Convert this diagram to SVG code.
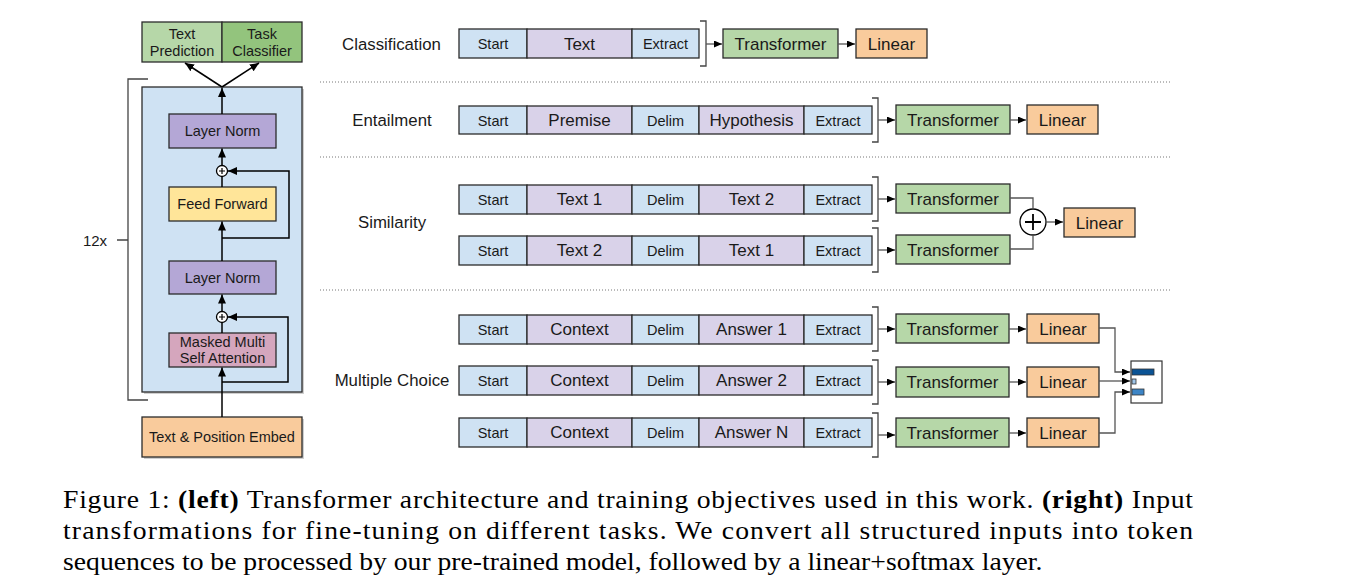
<svg xmlns="http://www.w3.org/2000/svg" width="1348" height="587" viewBox="0 0 1348 587">
<style>
.b{stroke:#2b2b2b;stroke-width:1.3}
.t{font-family:"Liberation Sans",Arial,sans-serif;fill:#1a1a1a;text-anchor:middle;dominant-baseline:central}
.s13{font-size:14.5px}.s14{font-size:15px}.s16{font-size:17px}.s15{font-size:16.8px}
.blue{fill:#cfe2f3}.pur{fill:#d9d2e9}.grn{fill:#b6d7a8}.org{fill:#f9cb9c}
.ln{fill:none;stroke:#000;stroke-width:1.5}
.cn{fill:none;stroke:#555;stroke-width:1.3}
.br{fill:none;stroke:#444;stroke-width:1.3}
.dot{stroke:#777;stroke-width:1;stroke-dasharray:1 2}
.cap{font-family:"Liberation Serif","Times New Roman",serif;font-size:25px;fill:#000}
</style>
<defs>
<marker id="ah" markerUnits="userSpaceOnUse" markerWidth="10" markerHeight="10" refX="9" refY="4" orient="auto"><path d="M0,0 L9,4 L0,8 Z" fill="#000"/></marker>
<marker id="as" markerUnits="userSpaceOnUse" markerWidth="10" markerHeight="8" refX="8" refY="3.5" orient="auto"><path d="M0,0 L8,3.5 L0,7 Z" fill="#000"/></marker>
</defs>
<rect width="1348" height="587" fill="#fff"/>

<!-- left panel -->
<g id="panel">
<rect x="144" y="89" width="160" height="305" fill="#cfcfcf"/>
<rect class="b" x="142" y="87" width="160" height="305" fill="#cfe2f3"/>
</g>
<g id="text-prediction"><rect class="b" x="142" y="22" width="80" height="40" fill="#b6d7a8"/><text class="t s13" x="182" y="34">Text</text><text class="t s13" x="182" y="51">Prediction</text></g>
<g id="task-classifier"><rect class="b" x="222" y="22" width="80" height="40" fill="#93c47d"/><text class="t s13" x="262" y="34">Task</text><text class="t s13" x="262" y="51">Classifier</text></g>
<g id="layer-norm-1"><rect class="b" x="169" y="114" width="107" height="34" fill="#b4a7d6"/><text class="t s13" x="222.5" y="131">Layer Norm</text></g>
<g id="feed-forward"><rect class="b" x="169" y="187" width="107" height="34" fill="#ffe599"/><text class="t s13" x="222.5" y="204">Feed Forward</text></g>
<g id="layer-norm-2"><rect class="b" x="169" y="261" width="107" height="33" fill="#b4a7d6"/><text class="t s13" x="222.5" y="277.5">Layer Norm</text></g>
<g id="masked-attn"><rect class="b" x="169" y="333" width="107" height="34" fill="#d5a6bd"/><text class="t s13" x="222.5" y="342">Masked Multi</text><text class="t s13" x="222.5" y="358">Self Attention</text></g>
<g id="embed"><rect x="144" y="419" width="160" height="40" fill="#cfcfcf"/><rect class="b" x="142" y="417" width="160" height="40" fill="#f9cb9c"/><text class="t s13" x="222" y="437">Text &amp; Position Embed</text></g>
<g id="add-1"><circle cx="222" cy="171" r="5.5" fill="#fff" stroke="#000" stroke-width="1.3"/><path d="M219,171h6M222,168v6" stroke="#000" stroke-width="1.2"/></g>
<g id="add-2"><circle cx="222" cy="317" r="5.5" fill="#fff" stroke="#000" stroke-width="1.3"/><path d="M219,317h6M222,314v6" stroke="#000" stroke-width="1.2"/></g>
<g id="repeat-bracket">
<path class="br" d="M148,79H128V400H148M117,240H128" stroke="#333"/>
<text class="t s14" x="95" y="240">12x</text>
</g>

<!-- right panel labels -->
<g id="task-labels">
<text class="t s15" x="391.5" y="44">Classification</text>
<text class="t s15" x="392" y="120">Entailment</text>
<text class="t s15" x="392" y="222">Similarity</text>
<text class="t s15" x="392" y="380">Multiple Choice</text>
</g>
<g id="separators">
<line class="dot" x1="320" y1="82" x2="1172" y2="82"/>
<line class="dot" x1="320" y1="157" x2="1172" y2="157"/>
<line class="dot" x1="320" y1="290" x2="1172" y2="290"/>
</g>

<!-- classification -->
<g id="cls-seq">
<rect class="b blue" x="459" y="29" width="68" height="29"/><text class="t s13" x="493" y="44">Start</text>
<rect class="b pur" x="527" y="29" width="105" height="29"/><text class="t s16" x="579.5" y="44">Text</text>
<rect class="b blue" x="632" y="29" width="67" height="29"/><text class="t s13" x="665.5" y="44">Extract</text>
</g>
<g id="cls-transformer"><rect class="b grn" x="723" y="29" width="115" height="29"/><text class="t s16" x="780.5" y="44">Transformer</text></g>
<g id="cls-linear"><rect class="b org" x="856" y="29" width="71" height="29"/><text class="t s16" x="891.5" y="44">Linear</text></g>

<!-- entailment -->
<g id="ent-seq">
<rect class="b blue" x="459" y="106" width="68" height="28"/><text class="t s13" x="493" y="120.5">Start</text>
<rect class="b pur" x="527" y="106" width="105" height="28"/><text class="t s16" x="579.5" y="120.5">Premise</text>
<rect class="b blue" x="632" y="106" width="67" height="28"/><text class="t s13" x="665.5" y="120.5">Delim</text>
<rect class="b pur" x="699" y="106" width="105" height="28"/><text class="t s16" x="751.5" y="120.5">Hypothesis</text>
<rect class="b blue" x="804" y="106" width="68" height="28"/><text class="t s13" x="838" y="120.5">Extract</text>
</g>
<g id="ent-transformer"><rect class="b grn" x="896" y="105" width="114" height="29"/><text class="t s16" x="953" y="120">Transformer</text></g>
<g id="ent-linear"><rect class="b org" x="1027" y="105" width="71" height="29"/><text class="t s16" x="1062.5" y="120">Linear</text></g>

<!-- similarity -->
<g id="sim-seq-1">
<rect class="b blue" x="459" y="185" width="68" height="29"/><text class="t s13" x="493" y="199.5">Start</text>
<rect class="b pur" x="527" y="185" width="105" height="29"/><text class="t s16" x="579.5" y="199.5">Text 1</text>
<rect class="b blue" x="632" y="185" width="67" height="29"/><text class="t s13" x="665.5" y="199.5">Delim</text>
<rect class="b pur" x="699" y="185" width="105" height="29"/><text class="t s16" x="751.5" y="199.5">Text 2</text>
<rect class="b blue" x="804" y="185" width="68" height="29"/><text class="t s13" x="838" y="199.5">Extract</text>
</g>
<g id="sim-seq-2">
<rect class="b blue" x="459" y="236" width="68" height="29"/><text class="t s13" x="493" y="250.5">Start</text>
<rect class="b pur" x="527" y="236" width="105" height="29"/><text class="t s16" x="579.5" y="250.5">Text 2</text>
<rect class="b blue" x="632" y="236" width="67" height="29"/><text class="t s13" x="665.5" y="250.5">Delim</text>
<rect class="b pur" x="699" y="236" width="105" height="29"/><text class="t s16" x="751.5" y="250.5">Text 1</text>
<rect class="b blue" x="804" y="236" width="68" height="29"/><text class="t s13" x="838" y="250.5">Extract</text>
</g>
<g id="sim-transformer-1"><rect class="b grn" x="896" y="184" width="114" height="29"/><text class="t s16" x="953" y="199">Transformer</text></g>
<g id="sim-transformer-2"><rect class="b grn" x="896" y="235" width="114" height="29"/><text class="t s16" x="953" y="250">Transformer</text></g>
<g id="sim-add"><circle cx="1033" cy="222" r="13" fill="#fff" stroke="#000" stroke-width="1.3"/><path d="M1025,222h16M1033,214v16" stroke="#000" stroke-width="1.8"/></g>
<g id="sim-linear"><rect class="b org" x="1064" y="208" width="71" height="29"/><text class="t s16" x="1099.5" y="223">Linear</text></g>

<!-- multiple choice -->
<g id="mc-seq-1">
<rect class="b blue" x="459" y="315" width="68" height="29"/><text class="t s13" x="493" y="329.5">Start</text>
<rect class="b pur" x="527" y="315" width="105" height="29"/><text class="t s16" x="579.5" y="329.5">Context</text>
<rect class="b blue" x="632" y="315" width="67" height="29"/><text class="t s13" x="665.5" y="329.5">Delim</text>
<rect class="b pur" x="699" y="315" width="105" height="29"/><text class="t s16" x="751.5" y="329.5">Answer 1</text>
<rect class="b blue" x="804" y="315" width="68" height="29"/><text class="t s13" x="838" y="329.5">Extract</text>
</g>
<g id="mc-seq-2">
<rect class="b blue" x="459" y="366" width="68" height="29"/><text class="t s13" x="493" y="380.5">Start</text>
<rect class="b pur" x="527" y="366" width="105" height="29"/><text class="t s16" x="579.5" y="380.5">Context</text>
<rect class="b blue" x="632" y="366" width="67" height="29"/><text class="t s13" x="665.5" y="380.5">Delim</text>
<rect class="b pur" x="699" y="366" width="105" height="29"/><text class="t s16" x="751.5" y="380.5">Answer 2</text>
<rect class="b blue" x="804" y="366" width="68" height="29"/><text class="t s13" x="838" y="380.5">Extract</text>
</g>
<g id="mc-seq-3">
<rect class="b blue" x="459" y="418" width="68" height="29"/><text class="t s13" x="493" y="432.5">Start</text>
<rect class="b pur" x="527" y="418" width="105" height="29"/><text class="t s16" x="579.5" y="432.5">Context</text>
<rect class="b blue" x="632" y="418" width="67" height="29"/><text class="t s13" x="665.5" y="432.5">Delim</text>
<rect class="b pur" x="699" y="418" width="105" height="29"/><text class="t s16" x="751.5" y="432.5">Answer N</text>
<rect class="b blue" x="804" y="418" width="68" height="29"/><text class="t s13" x="838" y="432.5">Extract</text>
</g>
<g id="mc-transformer-1"><rect class="b grn" x="896" y="314" width="113" height="29"/><text class="t s16" x="952.5" y="329">Transformer</text></g>
<g id="mc-transformer-2"><rect class="b grn" x="896" y="367" width="113" height="30"/><text class="t s16" x="952.5" y="382">Transformer</text></g>
<g id="mc-transformer-3"><rect class="b grn" x="896" y="418" width="113" height="29"/><text class="t s16" x="952.5" y="433">Transformer</text></g>
<g id="mc-linear-1"><rect class="b org" x="1027" y="314" width="72" height="29"/><text class="t s16" x="1063" y="329">Linear</text></g>
<g id="mc-linear-2"><rect class="b org" x="1027" y="367" width="72" height="30"/><text class="t s16" x="1063" y="382">Linear</text></g>
<g id="mc-linear-3"><rect class="b org" x="1027" y="418" width="72" height="29"/><text class="t s16" x="1063" y="433">Linear</text></g>
<g id="mc-output">
<rect x="1131" y="361" width="31" height="42" fill="#fff" stroke="#333" stroke-width="1.2"/>
<rect x="1132" y="369" width="22" height="6" fill="#0b5394" stroke="#333" stroke-width="0.8"/>
<rect x="1132" y="379" width="4" height="5" fill="#9fc5e8" stroke="#333" stroke-width="0.8"/>
<rect x="1132" y="389" width="12" height="6" fill="#3d85c6" stroke="#333" stroke-width="0.8"/>
</g>

<!-- connectors -->
<g id="connectors">
<path class="ln" d="M222,87L185,63" marker-end="url(#ah)"/>
<path class="ln" d="M222,87L259,63" marker-end="url(#ah)"/>
<path class="ln" d="M222,114V88" marker-end="url(#ah)"/>
<path class="ln" d="M222,165.5V148.5" marker-end="url(#ah)"/>
<path class="ln" d="M222,187V176.5"/>
<path class="ln" d="M222,238H289V171H228" marker-end="url(#ah)"/>
<path class="ln" d="M222,261V221.5" marker-end="url(#ah)"/>
<path class="ln" d="M222,311.5V294.5" marker-end="url(#ah)"/>
<path class="ln" d="M222,333V322.5"/>
<path class="ln" d="M222,382H288V317H228" marker-end="url(#ah)"/>
<path class="ln" d="M222,417V367.5" marker-end="url(#ah)"/>

<path class="br" d="M700,21H706V66H700"/>
<path class="br" d="M872,98H878V142H872"/>
<path class="br" d="M872,177H878V221H872"/>
<path class="br" d="M872,228H878V272H872"/>
<path class="br" d="M872,307H878V351H872"/>
<path class="br" d="M872,360H878V404H872"/>
<path class="br" d="M872,413H878V457H872"/>

<path class="cn" d="M706,44H722" marker-end="url(#as)"/>
<path class="cn" d="M838,44H855" marker-end="url(#as)"/>
<path class="cn" d="M878,120H895" marker-end="url(#as)"/>
<path class="cn" d="M1010,120H1026" marker-end="url(#as)"/>
<path class="cn" d="M878,199H895" marker-end="url(#as)"/>
<path class="cn" d="M878,250H895" marker-end="url(#as)"/>
<path class="cn" d="M1010,198H1033V209"/>
<path class="cn" d="M1010,249H1033V235"/>
<path class="cn" d="M1046,222H1063" marker-end="url(#as)"/>
<path class="cn" d="M878,329H895" marker-end="url(#as)"/>
<path class="cn" d="M878,382H895" marker-end="url(#as)"/>
<path class="cn" d="M878,435H895" marker-end="url(#as)"/>
<path class="cn" d="M1009,329H1026" marker-end="url(#as)"/>
<path class="cn" d="M1009,382H1026" marker-end="url(#as)"/>
<path class="cn" d="M1009,433H1026" marker-end="url(#as)"/>
<path class="cn" d="M1099,328H1115V372H1130" marker-end="url(#as)"/>
<path class="cn" d="M1099,381H1130" marker-end="url(#as)"/>
<path class="cn" d="M1099,433H1115V392H1130" marker-end="url(#as)"/>
</g>

<!-- caption -->
<g id="caption" transform="scale(1.106,1)">
<text class="cap" x="57" y="508" textLength="1021.7" lengthAdjust="spacing">Figure 1: <tspan font-weight="bold">(left)</tspan> Transformer architecture and training objectives used in this work. <tspan font-weight="bold">(right)</tspan> Input</text>
<text class="cap" x="57" y="539" textLength="1021.7" lengthAdjust="spacing">transformations for fine-tuning on different tasks.  We convert all structured inputs into token</text>
<text class="cap" x="57" y="570">sequences to be processed by our pre-trained model, followed by a linear+softmax layer.</text>
</g>
</svg>
